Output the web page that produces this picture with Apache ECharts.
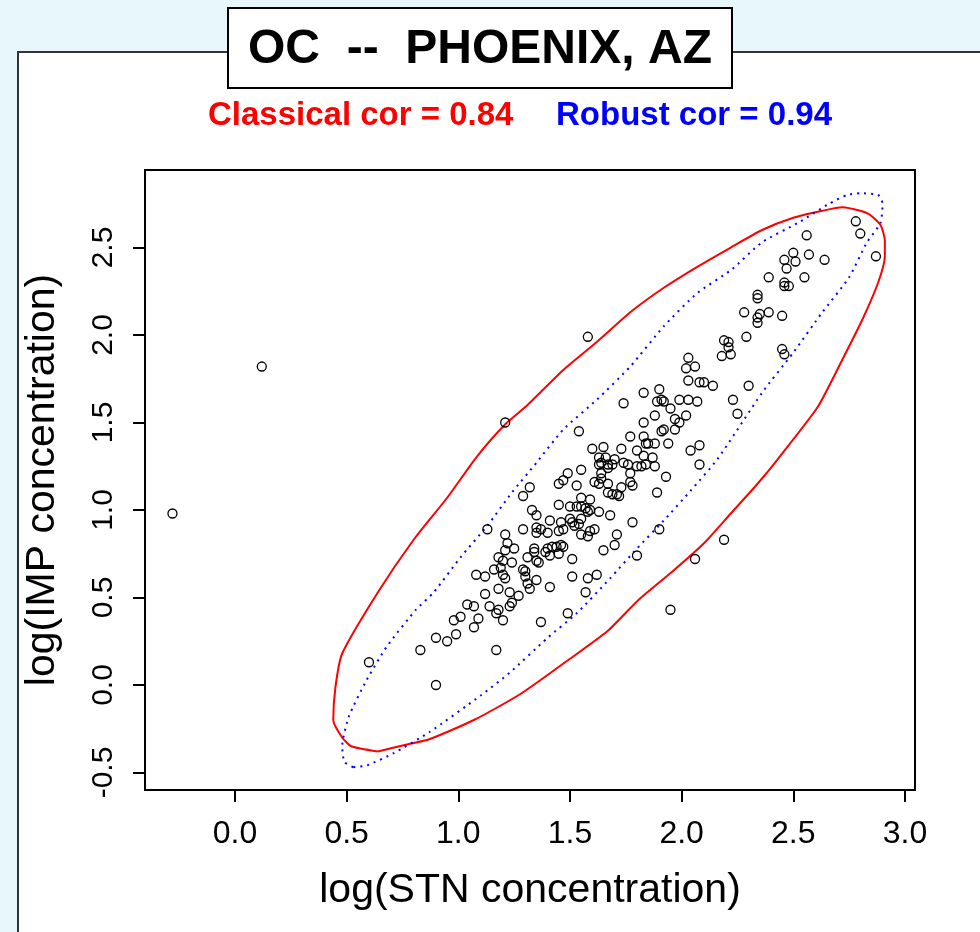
<!DOCTYPE html>
<html>
<head>
<meta charset="utf-8">
<script src="https://cdn.jsdelivr.net/npm/echarts@6/dist/echarts.min.js"></script>
<style>
  html, body { margin: 0; padding: 0; background: #e8f7fb; }
  #chart { width: 980px; height: 932px; }
</style>
</head>
<body>
<div id="chart"></div>
<script>
// ---- data ----
const titleText = 'OC  --  PHOENIX, AZ';
const classicalLabel = 'Classical cor = 0.84';
const robustLabel = 'Robust cor = 0.94';
const xAxisTitle = 'log(STN concentration)';
const yAxisTitle = 'log(IMP concentration)';

const xTicks = [0.0, 0.5, 1.0, 1.5, 2.0, 2.5, 3.0];
const yTicks = [-0.5, 0.0, 0.5, 1.0, 1.5, 2.0, 2.5];

// log(STN) values of the observations
const stnLog = [
  -0.28, 0.12, 1.21, 1.58, 0.60, 0.90, 0.83, 1.17, 1.95, 2.06,
  2.19, 0.90, 0.95, 0.99, 0.98, 1.01, 1.07, 1.09, 1.04, 1.07,
  1.14, 1.18, 1.17, 1.20, 1.12, 1.18, 1.23, 1.27, 1.24, 1.23,
  1.37, 1.49, 1.08, 1.12, 1.16, 1.20, 1.21, 1.18, 1.20, 1.24,
  1.21, 1.22, 1.21, 1.25, 1.13, 1.29, 1.30, 1.30, 1.31, 1.32,
  1.35, 1.31, 1.34, 1.34, 1.35, 1.36, 1.41, 1.29, 1.32, 1.33,
  1.35, 1.29, 1.35, 1.37, 1.40, 1.35, 1.45, 1.50, 1.41, 1.46,
  1.47, 1.45, 1.50, 1.51, 1.39, 1.40, 1.41, 1.42, 1.44, 1.45,
  1.46, 1.47, 1.51, 1.51, 1.58, 1.62, 1.57, 1.53, 1.55, 1.57,
  1.58, 1.59, 1.63, 1.52, 1.54, 1.55, 1.55, 1.59, 1.68, 1.78,
  1.55, 1.58, 1.59, 1.61, 1.71, 1.70, 1.65, 1.90, 1.80, 1.45,
  1.47, 1.49, 1.53, 1.55, 1.63, 1.64, 1.67, 1.70, 1.69, 1.74,
  1.76, 1.77, 1.80, 1.82, 1.84, 1.88, 1.93, 2.08, 1.64, 1.64,
  1.61, 1.63, 1.67, 1.77, 1.78, 1.73, 1.71, 1.72, 1.69, 1.67,
  1.89, 2.78, 2.80, 2.87, 2.56, 2.50, 2.57, 2.64, 2.46, 2.51,
  2.47, 2.39, 2.55, 2.46, 2.46, 2.48, 2.34, 2.34, 2.28, 2.35,
  2.39, 2.45, 2.34, 2.34, 2.29, 2.19, 2.21, 2.21, 2.18, 2.22,
  2.45, 2.46, 2.03, 2.06, 2.02, 2.03, 2.08, 2.10, 2.14, 2.30,
  1.90, 1.83, 1.91, 1.92, 1.89, 1.99, 2.03, 2.07, 1.74, 2.23,
  1.95, 2.02, 1.88, 2.25, 1.97, 1.99, 1.83, 1.54, 1.92, 1.91,
  1.97, 1.77, 1.83, 1.85, 1.88, 1.94, 1.60, 1.65, 1.73, 1.80,
  1.83, 1.87, 2.04, 2.08, 1.63, 1.66, 1.67, 1.84, 1.19
];
// log(IMP) values of the observations
const impLog = [
  0.98, 1.82, 1.50, 1.99, 0.13, 0.00, 0.20, 0.20, 0.43, 0.72,
  0.83, 0.27, 0.25, 0.29, 0.37, 0.39, 0.33, 0.38, 0.46, 0.45,
  0.45, 0.43, 0.41, 0.37, 0.52, 0.55, 0.53, 0.51, 0.47, 0.45,
  0.36, 0.41, 0.63, 0.62, 0.66, 0.63, 0.61, 0.73, 0.71, 0.70,
  0.86, 0.81, 0.77, 0.78, 0.89, 0.66, 0.65, 0.62, 0.58, 0.55,
  0.60, 0.73, 0.78, 0.76, 0.71, 0.70, 0.56, 1.08, 1.13, 1.00,
  0.97, 0.89, 0.90, 0.89, 0.87, 0.87, 1.03, 1.02, 0.94, 0.93,
  0.89, 0.88, 0.95, 0.93, 0.76, 0.78, 0.74, 0.79, 0.79, 0.75,
  0.80, 0.79, 0.72, 0.62, 0.61, 0.63, 0.53, 1.02, 1.02, 1.01,
  0.99, 1.00, 0.99, 0.91, 0.92, 0.95, 1.07, 1.06, 0.97, 0.93,
  0.86, 0.85, 0.88, 0.89, 0.86, 0.80, 0.77, 0.89, 0.74, 1.15,
  1.17, 1.21, 1.14, 1.23, 1.26, 1.27, 1.26, 1.29, 1.26, 1.27,
  1.26, 1.21, 1.25, 1.25, 1.26, 1.25, 1.19, 1.26, 1.21, 1.18,
  1.16, 1.15, 1.15, 1.16, 1.14, 1.13, 1.09, 1.08, 1.09, 1.10,
  1.10, 2.65, 2.58, 2.45, 2.57, 2.47, 2.46, 2.43, 2.43, 2.42,
  2.38, 2.33, 2.33, 2.30, 2.28, 2.28, 2.23, 2.21, 2.13, 2.12,
  2.13, 2.11, 2.10, 2.07, 1.99, 1.97, 1.96, 1.93, 1.88, 1.89,
  1.92, 1.89, 1.87, 1.82, 1.81, 1.74, 1.73, 1.73, 1.71, 1.71,
  1.69, 1.67, 1.63, 1.62, 1.62, 1.63, 1.63, 1.62, 1.61, 1.63,
  1.58, 1.54, 1.54, 1.55, 1.52, 1.50, 1.50, 1.45, 1.46, 1.45,
  1.46, 1.42, 1.42, 1.38, 1.38, 1.38, 1.35, 1.36, 1.35, 1.34,
  1.31, 1.30, 1.34, 1.37, 1.30, 1.30, 1.24, 1.38, 0.67
];

// classical (red, solid) tolerance ellipse outline
const classicalX = [0.64, 0.77, 0.87, 1.07, 1.28, 1.50, 1.67, 1.81, 1.96, 2.10, 2.22, 2.34, 2.43, 2.61, 2.72, 2.81, 2.88, 2.91, 2.91, 2.89, 2.84, 2.80, 2.72, 2.63, 2.50, 2.36, 2.22, 2.07, 1.92, 1.77, 1.62, 1.47, 1.31, 1.21, 1.08, 0.95, 0.80, 0.64, 0.48, 0.45, 0.44, 0.48, 0.52, 0.64];
const classicalY = [-0.38, -0.34, -0.31, -0.20, -0.05, 0.15, 0.31, 0.49, 0.65, 0.81, 0.98, 1.15, 1.29, 1.59, 1.86, 2.09, 2.30, 2.45, 2.54, 2.63, 2.69, 2.71, 2.73, 2.71, 2.67, 2.60, 2.50, 2.39, 2.27, 2.13, 1.96, 1.80, 1.60, 1.49, 1.30, 1.07, 0.83, 0.53, 0.18, -0.01, -0.20, -0.30, -0.35, -0.38];

// robust (blue, dotted) tolerance ellipse outline
const robustX = [0.53, 0.59, 0.71, 0.87, 1.10, 1.23, 1.40, 1.53, 1.68, 1.80, 1.92, 2.04, 2.16, 2.36, 2.50, 2.63, 2.75, 2.83, 2.89, 2.90, 2.88, 2.80, 2.74, 2.66, 2.52, 2.36, 2.22, 2.07, 1.92, 1.77, 1.62, 1.47, 1.35, 1.24, 1.13, 1.01, 0.89, 0.81, 0.68, 0.59, 0.51, 0.48, 0.49, 0.53];
const robustY = [-0.47, -0.46, -0.39, -0.27, -0.06, 0.07, 0.27, 0.41, 0.61, 0.78, 0.94, 1.11, 1.29, 1.67, 1.90, 2.13, 2.33, 2.53, 2.64, 2.75, 2.80, 2.81, 2.80, 2.75, 2.64, 2.53, 2.37, 2.24, 2.05, 1.82, 1.63, 1.46, 1.27, 1.10, 0.91, 0.73, 0.53, 0.43, 0.22, 0.03, -0.18, -0.35, -0.44, -0.47];

// ---- chart ----
const FONT = '"Liberation Sans", Arial, Helvetica, sans-serif';
const pts = stnLog.map((x, i) => [x, impLog[i]]);
const redLine = classicalX.map((x, i) => [x, classicalY[i]]);
const blueLine = robustX.map((x, i) => [x, robustY[i]]);

const chart = echarts.init(document.getElementById('chart'), null, { renderer: 'canvas' });
chart.setOption({
  animation: false,
  backgroundColor: 'transparent',
  graphic: [
    { type: 'rect', z: -10, shape: { x: 18, y: 52, width: 980, height: 900 },
      style: { fill: '#ffffff', stroke: '#333333', lineWidth: 2 } },
    { type: 'rect', z: 10, shape: { x: 228, y: 8, width: 504, height: 80 },
      style: { fill: '#ffffff', stroke: '#000000', lineWidth: 2 } },
    { type: 'text', z: 11, x: 480, y: 50,
      style: { text: titleText, font: 'bold 48px ' + FONT, fill: '#000',
               align: 'center', verticalAlign: 'middle', textAlign: 'center', textVerticalAlign: 'middle' } },
    { type: 'text', z: 11, x: 208, y: 116,
      style: { text: classicalLabel, font: 'bold 33px ' + FONT, fill: '#ff0000',
               align: 'left', verticalAlign: 'middle', textAlign: 'left', textVerticalAlign: 'middle' } },
    { type: 'text', z: 11, x: 556, y: 116,
      style: { text: robustLabel, font: 'bold 33px ' + FONT, fill: '#0000ff',
               align: 'left', verticalAlign: 'middle', textAlign: 'left', textVerticalAlign: 'middle' } }
  ],
  grid: { left: 145, top: 170, width: 770, height: 620, show: true,
          borderColor: '#000', borderWidth: 2, backgroundColor: 'transparent', containLabel: false },
  xAxis: {
    type: 'value', min: -0.403, max: 3.045,
    axisLine: { show: false, onZero: false }, splitLine: { show: false },
    axisTick: { show: true, length: 12, customValues: xTicks, lineStyle: { color: '#000', width: 2 } },
    axisLabel: { customValues: xTicks, formatter: v => v.toFixed(1), fontSize: 32, color: '#000',
                 fontFamily: FONT, margin: 28 },
    name: xAxisTitle, nameLocation: 'middle', nameGap: 80,
    nameTextStyle: { fontSize: 41, color: '#000', fontFamily: FONT }
  },
  yAxis: {
    type: 'value', min: -0.6, max: 2.943,
    axisLine: { show: false, onZero: false }, splitLine: { show: false },
    axisTick: { show: true, length: 12, customValues: yTicks, lineStyle: { color: '#000', width: 2 } },
    axisLabel: { customValues: yTicks, formatter: v => v.toFixed(1), fontSize: 30, color: '#000',
                 fontFamily: FONT, margin: 26, rotate: 90 },
    name: yAxisTitle, nameLocation: 'middle', nameGap: 82,
    nameTextStyle: { fontSize: 41, color: '#000', fontFamily: FONT }
  },
  series: [
    { type: 'scatter', data: pts, symbol: 'circle', symbolSize: 9, z: 3,
      itemStyle: { color: 'rgba(0,0,0,0)', borderColor: '#000', borderWidth: 1.3, opacity: 1 } },
    { type: 'line', data: redLine, showSymbol: false, symbol: 'none', smooth: 0.2, z: 2,
      lineStyle: { color: '#ff0000', width: 2 } },
    { type: 'line', data: blueLine, showSymbol: false, symbol: 'none', smooth: 0.2, z: 2,
      lineStyle: { color: '#0000ff', width: 2, type: [2, 5] } }
  ]
});
</script>
</body>
</html>
